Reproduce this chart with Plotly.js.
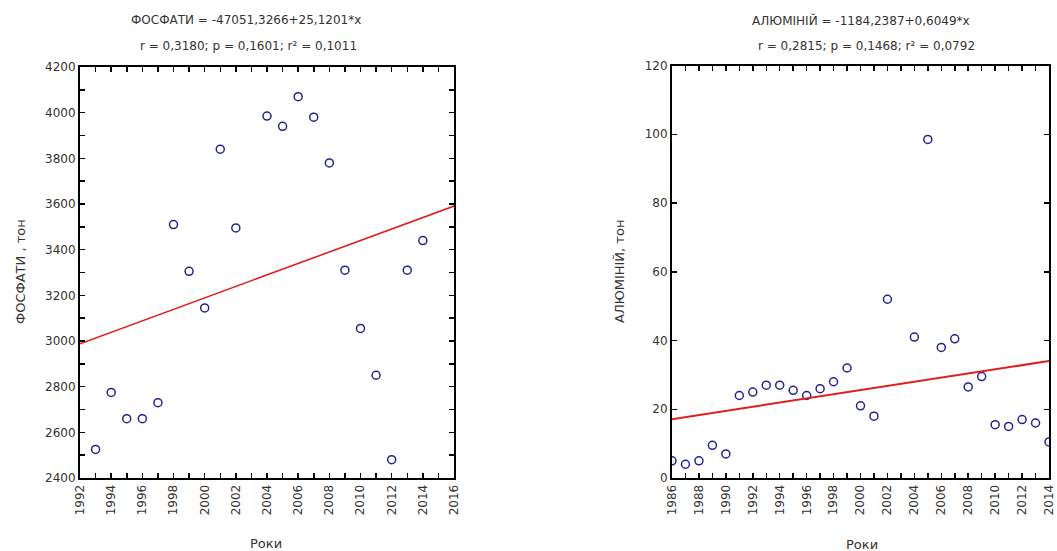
<!DOCTYPE html>
<html><head><meta charset="utf-8">
<script src="https://cdn.plot.ly/plotly-3.0.1.min.js"></script>
<style>html,body{margin:0;padding:0;background:#fff}#chart{width:1057px;height:551px}</style>
</head><body><div id="chart"></div>
<script>
// ---- Data: phosphates (left) ----
const phosYears  = [1993,1994,1995,1996,1997,1998,1999,2000,2001,2002,2004,2005,2006,2007,2008,2009,2010,2011,2012,2013,2014];
const phosValues = [2525,2775,2660,2660,2730,3510,3305,3145,3840,3495,3985,3940,4070,3980,3780,3310,3055,2850,2480,3310,3440];
const phosIntercept = -47051.3266;
const phosSlope = 25.1201;
const phosXRange = [1992, 2016];
const phosYRange = [2400, 4200];
const phosTitle1 = 'ФОСФАТИ = -47051,3266+25,1201*x';
const phosTitle2 = 'r = 0,3180; p = 0,1601; r² = 0,1011';
const phosYTitle = 'ФОСФАТИ , тон';

// ---- Data: aluminium (right) ----
const alYears  = [1986,1987,1988,1989,1990,1991,1992,1993,1994,1995,1996,1997,1998,1999,2000,2001,2002,2004,2005,2006,2007,2008,2009,2010,2011,2012,2013,2014];
const alValues = [5,4,5,9.5,7,24,25,27,27,25.5,24,26,28,32,21,18,52,41,98.5,38,40.5,26.5,29.5,15.5,15,17,16,10.5];
const alIntercept = -1184.2387;
const alSlope = 0.6049;
const alXRange = [1986, 2014];
const alYRange = [0, 120];
const alTitle1 = 'АЛЮМІНІЙ = -1184,2387+0,6049*x';
const alTitle2 = 'r = 0,2815; p = 0,1468; r² = 0,0792';
const alYTitle = 'АЛЮМІНІЙ, тон';

const xTitle = 'Роки';

// ---- Drawing ----
const W = 1057, H = 551;
const fx = p => p / W;
const fy = p => 1 - p / H;
const FONT = 'DejaVu Sans, Arial, sans-serif';
const markerColor = 'rgb(35,35,150)';
const lineColor = 'rgb(225,30,30)';

function fitLine(range, a, b) {
  return range.map(x => a + b * x);
}

const traces = [
  {x: phosYears, y: phosValues, type: 'scatter', mode: 'markers', xaxis: 'x', yaxis: 'y',
   marker: {symbol: 'circle-open', size: 8, color: markerColor, line: {width: 1.5, color: markerColor}}},
  {x: phosXRange, y: fitLine(phosXRange, phosIntercept, phosSlope), type: 'scatter', mode: 'lines',
   xaxis: 'x', yaxis: 'y', line: {color: lineColor, width: 1.6}},
  {x: alYears, y: alValues, type: 'scatter', mode: 'markers', xaxis: 'x2', yaxis: 'y2',
   marker: {symbol: 'circle-open', size: 8, color: markerColor, line: {width: 1.5, color: markerColor}}},
  {x: alXRange, y: fitLine(alXRange, alIntercept, alSlope), type: 'scatter', mode: 'lines',
   xaxis: 'x2', yaxis: 'y2', line: {color: lineColor, width: 2}}
];

const tickFont = {family: FONT, size: 12, color: '#333'};
function axisBase(extra) {
  return Object.assign({
    showline: true, linecolor: '#000', linewidth: 2, mirror: 'ticks',
    ticks: 'inside', ticklen: 5, tickwidth: 1.5, tickcolor: '#000',
    showgrid: false, zeroline: false, tickfont: tickFont, fixedrange: true
  }, extra);
}

function label(text, px, py, angle, size) {
  return {text: text, x: fx(px), y: fy(py), xref: 'paper', yref: 'paper', showarrow: false,
    xanchor: 'center', yanchor: 'middle', textangle: angle || 0,
    font: {family: FONT, size: size || 12, color: '#333'}};
}

const layout = {
  width: W, height: H, showlegend: false,
  paper_bgcolor: '#fff', plot_bgcolor: '#fff',
  margin: {l: 0, r: 0, t: 0, b: 0},
  font: {family: FONT, color: '#333'},
  xaxis: axisBase({domain: [fx(80), fx(454)], range: phosXRange, tick0: 1992, dtick: 2, tickangle: -90,
    minor: {dtick: 1, ticks: 'inside', ticklen: 5, tickcolor: '#000'}, anchor: 'y'}),
  yaxis: axisBase({domain: [fy(478), fy(67)], range: phosYRange, dtick: 200,
    minor: {dtick: 100, ticks: 'inside', ticklen: 5, tickcolor: '#000'}, anchor: 'x'}),
  xaxis2: axisBase({domain: [fx(672), fx(1049)], range: alXRange, tick0: 1986, dtick: 2, tickangle: -90,
    minor: {dtick: 1, ticks: 'inside', ticklen: 5, tickcolor: '#000'}, anchor: 'y2'}),
  yaxis2: axisBase({domain: [fy(478), fy(65.5)], range: alYRange, dtick: 20, anchor: 'x2'}),
  annotations: [
    label(phosTitle1, 246, 20),
    label(phosTitle2, 248, 46),
    label(alTitle1, 861, 21),
    label(alTitle2, 866, 46),
    label(phosYTitle, 20, 272, -90, 13),
    label(alYTitle, 619, 272, -90, 13),
    label(xTitle, 266, 543, 0, 13),
    label(xTitle, 862, 544, 0, 13)
  ]
};

Plotly.newPlot('chart', traces, layout, {displayModeBar: false, staticPlot: true});
</script>
</body></html>
